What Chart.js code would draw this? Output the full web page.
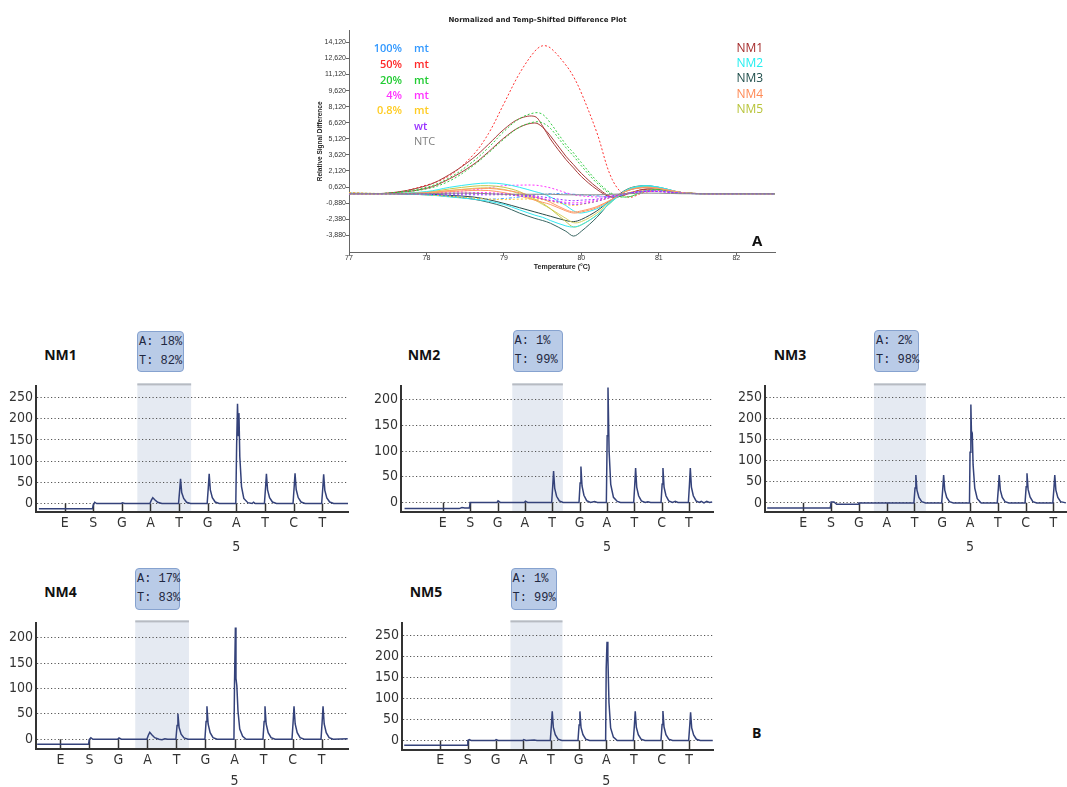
<!DOCTYPE html>
<html>
<head>
<meta charset="utf-8">
<script src="https://cdn.jsdelivr.net/npm/chart.js@4.4.1/dist/chart.umd.min.js"></script>
<style>
  body { margin: 0; width: 1067px; height: 787px; position: relative; background: #fff; overflow: hidden; font-family: 'Open Sans', sans-serif; }
  canvas { position: absolute; }
  .lbl { position: absolute; white-space: nowrap; line-height: 1; }
  .box { position: absolute; box-sizing: border-box; background: #b9cbe7; border: 1px solid #86a2cf; border-radius: 4px; white-space: nowrap;
         font-family: 'Liberation Mono', monospace; font-size: 12px; line-height: 19px; color: #1f2740; padding: 1px 0 0 1px; }
</style>
</head>
<body>
<script>
// ---- melt curve (panel A) ----
const temps = [77.0, 77.5, 78.0, 78.3, 78.6, 78.8, 79.0, 79.2, 79.4, 79.5, 79.6, 79.8, 79.9, 80.0, 80.2, 80.4, 80.6, 80.8, 81.0, 81.3, 81.6, 82.0, 82.5];
const tempXTicks = [77, 78, 79, 80, 81, 82];
const tempYTicks = [-3.88, -2.38, -0.88, 0.62, 2.12, 3.62, 5.12, 6.62, 8.12, 9.62, 11.12, 12.62, 14.12];

const mt100 = [0.05, 0.0, -0.05, -0.2, -0.4, -0.5, -0.45, -0.3, -0.1, -0.05, 0.0, 0.0, -0.05, -0.1, -0.2, -0.3, 0.0, 0.25, 0.3, 0.05, 0.0, 0.0, 0.0];
const mt50 = [0.1, 0.0, 0.8, 1.7, 3.6, 5.6, 8.4, 11.2, 13.3, 13.8, 13.6, 12.0, 10.9, 9.4, 5.7, 1.3, -0.3, 0.1, 0.3, 0.1, 0.0, 0.0, 0.0];
const mt20a = [0.0, 0.05, 0.6, 1.5, 3.0, 4.3, 5.8, 7.0, 7.55, 7.4, 6.6, 4.6, 3.8, 2.9, 1.2, 0.0, -0.3, 0.2, 0.4, 0.1, 0.0, 0.0, 0.0];
const mt20b = [0.0, 0.05, 0.45, 1.2, 2.6, 3.8, 5.1, 6.2, 6.7, 6.6, 6.1, 4.3, 3.5, 2.6, 1.0, -0.1, -0.3, 0.2, 0.4, 0.1, 0.0, 0.0, 0.0];
const mt4a = [0.0, 0.0, 0.05, 0.15, 0.35, 0.55, 0.75, 0.8, 0.8, 0.7, 0.55, 0.1, -0.1, -0.2, -0.3, -0.2, 0.0, 0.2, 0.2, 0.05, 0.0, 0.0, 0.0];
const mt4b = [0.0, 0.0, 0.0, 0.05, 0.1, 0.1, 0.0, -0.1, -0.3, -0.45, -0.6, -0.8, -0.85, -0.8, -0.6, -0.3, 0.0, 0.2, 0.2, 0.05, 0.0, 0.0, 0.0];
const mt08 = [0.1, 0.0, -0.1, -0.25, -0.4, -0.5, -0.55, -0.5, -0.5, -0.55, -0.7, -1.0, -1.1, -1.0, -0.7, -0.3, 0.1, 0.3, 0.3, 0.05, 0.0, 0.0, 0.0];
const wtA = [0.0, 0.0, -0.05, -0.1, -0.1, -0.1, -0.1, -0.2, -0.35, -0.5, -0.65, -0.9, -1.0, -0.95, -0.7, -0.3, 0.05, 0.25, 0.25, 0.05, 0.0, 0.0, 0.0];
const wtB = [0.0, 0.0, 0.0, 0.0, 0.0, 0.0, -0.05, -0.1, -0.2, -0.3, -0.4, -0.6, -0.65, -0.6, -0.5, -0.2, 0.05, 0.2, 0.2, 0.05, 0.0, 0.0, 0.0];
const ntc = [0.0, 0.0, 0.0, 0.05, 0.05, 0.0, -0.05, -0.05, -0.05, -0.05, -0.05, -0.1, -0.1, -0.1, -0.1, -0.05, 0.0, 0.05, 0.05, 0.0, 0.0, 0.0, 0.0];
const nm1a = [0.0, 0.05, 0.75, 1.8, 3.3, 4.6, 6.0, 7.0, 7.2, 6.3, 5.1, 3.2, 2.4, 1.6, 0.4, -0.35, 0.0, 0.4, 0.4, 0.1, 0.0, 0.0, 0.0];
const nm1b = [0.0, 0.05, 0.5, 1.4, 2.7, 3.9, 5.2, 6.2, 6.6, 6.2, 5.4, 3.5, 2.7, 1.9, 0.6, -0.3, 0.0, 0.4, 0.4, 0.1, 0.0, 0.0, 0.0];
const nm2a = [0.0, 0.0, 0.2, 0.6, 0.9, 1.0, 0.9, 0.6, 0.2, 0.0, -0.3, -1.1, -1.6, -1.8, -1.4, -0.6, 0.4, 0.7, 0.6, 0.1, 0.0, 0.0, 0.0];
const nm2b = [0.0, 0.0, -0.1, -0.3, -0.5, -0.7, -1.0, -1.5, -2.0, -2.2, -2.5, -3.0, -3.1, -2.9, -2.0, -0.7, 0.35, 0.75, 0.6, 0.1, 0.0, 0.0, 0.0];
const nm3a = [0.05, 0.0, -0.1, -0.25, -0.5, -0.8, -1.2, -1.8, -2.3, -2.5, -2.75, -3.5, -3.95, -3.5, -2.2, -0.6, 0.45, 0.75, 0.6, 0.1, 0.0, 0.0, 0.0];
const nm3b = [0.0, 0.0, -0.05, -0.15, -0.3, -0.55, -0.9, -1.3, -1.7, -1.9, -2.1, -2.5, -2.6, -2.4, -1.6, -0.5, 0.3, 0.6, 0.55, 0.1, 0.0, 0.0, 0.0];
const nm4a = [0.0, 0.0, 0.1, 0.3, 0.45, 0.5, 0.35, 0.1, -0.3, -0.5, -0.8, -1.5, -1.7, -1.6, -1.2, -0.5, 0.3, 0.6, 0.5, 0.1, 0.0, 0.0, 0.0];
const nm4b = [0.0, 0.0, 0.05, 0.2, 0.3, 0.3, 0.1, -0.2, -0.6, -0.8, -1.0, -1.6, -1.8, -1.7, -1.3, -0.5, 0.3, 0.55, 0.5, 0.1, 0.0, 0.0, 0.0];
const nm5a = [0.0, 0.0, 0.15, 0.45, 0.7, 0.75, 0.6, 0.2, -0.5, -0.9, -1.4, -2.6, -3.1, -2.9, -2.0, -0.7, 0.4, 0.7, 0.55, 0.1, 0.0, 0.0, 0.0];
const nm5b = [0.0, 0.0, 0.1, 0.3, 0.5, 0.55, 0.4, 0.0, -0.6, -1.0, -1.4, -2.3, -2.7, -2.6, -1.8, -0.6, 0.35, 0.65, 0.55, 0.1, 0.0, 0.0, 0.0];

const stdPercents = ['100%', '50%', '20%', '4%', '0.8%', '', ''];
const stdKinds = ['mt', 'mt', 'mt', 'mt', 'mt', 'wt', 'NTC'];
const sampleNames = ['NM1', 'NM2', 'NM3', 'NM4', 'NM5'];

// ---- pyrograms (panel B) ----
const dispensation = ['E', 'S', 'G', 'A', 'T', 'G', 'A', 'T', 'C', 'T'];
const positionLabel = '5';   // printed under the 7th dispensation
const ticks250 = [0, 50, 100, 150, 200, 250];
const ticks200 = [0, 50, 100, 150, 200];

const nm1Ratio = ['A: 18%', 'T: 82%'];
const nm2Ratio = ['A: 1%', 'T: 99%'];
const nm3Ratio = ['A: 2%', 'T: 98%'];
const nm4Ratio = ['A: 17%', 'T: 83%'];
const nm5Ratio = ['A: 1%', 'T: 99%'];

const nm1Trace = [[0.1,-12.5],[1.97,-12.5],[2.0,-4],[2.05,3],[2.12,0],[2.98,0],[3.02,1.5],[3.1,0],
  [3.98,0],[4.03,8],[4.08,13.5],[4.15,9],[4.25,3],[4.4,0],
  [4.98,0],[5.02,32],[5.05,58.5],[5.09,26],[5.16,12],[5.26,3],[5.4,0],
  [5.98,0],[6.02,38],[6.05,70],[6.09,32],[6.16,14],[6.26,3.5],[6.4,0],
  [6.98,0],[7.01,140],[7.04,235],[7.07,160],[7.09,213],[7.12,110],[7.18,40],[7.26,12],[7.4,2],[7.55,0],[7.6,3],[7.66,0],
  [7.98,0],[8.02,38],[8.05,70],[8.09,32],[8.16,14],[8.26,3.5],[8.4,0],
  [8.98,0],[9.02,40],[9.05,71],[9.09,33],[9.16,14],[9.26,3.5],[9.4,0],
  [9.98,0],[10.02,37],[10.05,69],[10.09,31],[10.16,13],[10.26,3.5],[10.4,0],[10.9,0]];
const nm2Trace = [[-0.4,-12],[1.6,-12],[1.7,-10],[1.8,-11],[1.97,-11],[2.0,0],[2.98,0],[3.02,3],[3.1,0],[3.98,0],[4.02,2.5],[4.1,0],
  [4.98,0],[5.02,33],[5.05,61],[5.09,28],[5.16,12],[5.26,3],[5.4,0],
  [5.98,0],[6.02,38],[6.05,70],[6.09,32],[6.16,14],[6.26,3.5],[6.4,0],[6.55,2],[6.65,0],
  [6.98,0],[7.01,130],[7.04,224],[7.08,100],[7.14,35],[7.24,10],[7.38,2],[7.5,0],
  [7.98,0],[8.02,36],[8.05,67],[8.09,30],[8.16,13],[8.26,3],[8.4,0],[8.5,1.5],[8.6,0],
  [8.98,0],[9.02,36],[9.05,67],[9.09,30],[9.16,13],[9.26,3],[9.4,0],[9.5,2],[9.6,0],
  [9.98,0],[10.02,36],[10.05,67],[10.09,30],[10.16,13],[10.26,3],[10.38,0],[10.45,2],[10.55,-1],[10.65,2],[10.75,0],[10.85,1]];
const nm3Trace = [[-0.3,-12],[1.97,-12],[2.0,2],[2.1,2],[2.2,-3.5],[2.97,-3.5],[3.0,0],
  [4.98,0],[5.02,35],[5.05,66],[5.09,30],[5.16,13],[5.26,3],[5.4,0],
  [5.98,0],[6.02,35],[6.05,66],[6.09,30],[6.16,13],[6.26,3],[6.4,0],
  [6.98,0],[7.0,120],[7.03,233],[7.05,170],[7.08,165],[7.11,90],[7.17,35],[7.26,10],[7.4,0],
  [7.98,0],[8.02,35],[8.05,66],[8.09,30],[8.16,13],[8.26,3],[8.4,0],
  [8.98,0],[9.02,38],[9.05,70],[9.09,32],[9.16,14],[9.26,3],[9.4,0],
  [9.98,0],[10.02,35],[10.05,66],[10.09,30],[10.16,13],[10.26,3],[10.45,0]];
const nm4Trace = [[0.2,-10],[1.97,-10],[2.0,0],[2.05,3],[2.12,0],[2.97,0],[3.02,2.5],[3.1,0],
  [3.98,0],[4.03,8],[4.08,13.6],[4.15,9],[4.25,3],[4.4,0],[4.5,-1],[4.6,1],[4.7,0],
  [4.98,0],[5.02,27],[5.05,50],[5.09,23],[5.16,10],[5.26,2.5],[5.4,0],
  [5.98,0],[6.02,35],[6.05,65],[6.09,30],[6.16,13],[6.26,3],[6.4,0],
  [6.98,0],[7.0,110],[7.03,220],[7.05,120],[7.08,105],[7.12,55],[7.18,20],[7.28,6],[7.4,0],
  [7.98,0],[8.02,35],[8.05,65],[8.09,30],[8.16,13],[8.26,3],[8.4,0],
  [8.98,0],[9.02,35],[9.05,65],[9.09,30],[9.16,13],[9.26,3],[9.4,0],
  [9.98,0],[10.02,35],[10.05,65],[10.09,30],[10.16,13],[10.26,3],[10.4,0],[10.9,1]];
const nm5Trace = [[-0.3,-11],[1.97,-11],[2.0,0],[2.05,2],[2.12,0],[2.98,0],[3.02,2],[3.1,0],[3.98,0],[4.02,2],[4.1,0],[4.4,1],[4.5,0],
  [4.98,0],[5.02,37],[5.05,69],[5.09,31],[5.16,14],[5.26,3],[5.4,0],
  [5.98,0],[6.02,37],[6.05,69],[6.09,31],[6.16,14],[6.26,3],[6.4,0],
  [6.98,0],[7.0,170],[7.03,234],[7.06,200],[7.1,90],[7.16,30],[7.26,8],[7.4,0],
  [7.98,0],[8.02,37],[8.05,69],[8.09,31],[8.16,14],[8.26,3],[8.4,0],
  [8.98,0],[9.02,38],[9.05,70],[9.09,32],[9.16,14],[9.26,3],[9.4,0],
  [9.98,0],[10.02,36],[10.05,67],[10.09,30],[10.16,13],[10.26,3],[10.4,0],[10.85,0]];

// helpers
function putText(txt, x, y, css, anchor) {
  const d = document.createElement('div');
  d.className = 'lbl';
  d.textContent = txt;
  Object.assign(d.style, css);
  d.style.left = x + 'px';
  d.style.top = y + 'px';
  const tx = anchor === 'r' ? '-100%' : anchor === 'c' ? '-50%' : '0';
  d.style.transform = 'translate(' + tx + ',-50%)';
  document.body.appendChild(d);
}
function makeCanvas(left, top, w, h) {
  const c = document.createElement('canvas');
  c.width = w; c.height = h;
  c.style.left = left + 'px'; c.style.top = top + 'px';
  c.style.width = w + 'px'; c.style.height = h + 'px';
  document.body.appendChild(c);
  return c;
}

// ---------- Panel A ----------
const series = [
  {d: ntc, c: '#8a8a8a', dash: []},
  {d: wtA, c: '#9933ff', dash: [2, 2]},
  {d: wtB, c: '#9933ff', dash: [2, 2]},
  {d: mt08, c: '#ffcc33', dash: [2, 2]},
  {d: mt100, c: '#3399ff', dash: [3, 2, 1, 2]},
  {d: mt4b, c: '#ff33ff', dash: [2, 2]},
  {d: nm4a, c: '#ff9966', dash: []},
  {d: nm4b, c: '#ff9966', dash: []},
  {d: nm2a, c: '#33e8f2', dash: []},
  {d: nm2b, c: '#33e8f2', dash: []},
  {d: nm5a, c: '#c4c84a', dash: []},
  {d: nm5b, c: '#d8d060', dash: []},
  {d: nm3a, c: '#3a6662', dash: []},
  {d: nm3b, c: '#2a4a48', dash: []},
  {d: mt4a, c: '#ff33ff', dash: [2, 2]},
  {d: mt20a, c: '#33cc44', dash: [2, 2]},
  {d: mt20b, c: '#33cc44', dash: [2, 2]},
  {d: nm1a, c: '#a83a3a', dash: []},
  {d: nm1b, c: '#a83a3a', dash: []},
  {d: mt50, c: '#ff3333', dash: [2, 2]}
];

const ctxA = makeCanvas(300, 10, 480, 270).getContext('2d');
new Chart(ctxA, {
  type: 'line',
  data: {
    datasets: series.map(s => ({
      data: temps.map((t, i) => ({x: t, y: s.d[i]})),
      borderColor: s.c,
      borderDash: s.dash,
      borderWidth: 1,
      pointRadius: 0,
      tension: 0.35,
      fill: false
    }))
  },
  options: {
    responsive: false,
    animation: false,
    layout: {padding: {left: 0, right: 5, top: 0, bottom: 0}},
    plugins: {
      legend: {display: false},
      tooltip: {enabled: false},
      title: {
        display: true,
        text: 'Normalized and Temp-Shifted Difference Plot',
        color: '#222',
        font: {family: 'DejaVu Sans', size: 7, weight: 'bold'},
        padding: {top: 6.2, bottom: 5.4}
      }
    },
    scales: {
      x: {
        type: 'linear',
        min: 77, max: 82.5,
        afterBuildTicks: sc => { sc.ticks = tempXTicks.map(v => ({value: v})); },
        afterFit: sc => { sc.height = 27.3; },
        grid: {drawOnChartArea: false, tickLength: 3, color: '#666'},
        border: {color: '#666', width: 1},
        ticks: {color: '#333', font: {family: 'Liberation Sans', size: 7}, padding: -1.5, maxRotation: 0},
        title: {display: true, text: 'Temperature (°C)', color: '#222',
                font: {family: 'Liberation Sans', size: 7, weight: 'bold'}, padding: {top: 0, bottom: 8.5}}
      },
      y: {
        min: -5.5, max: 15.27,
        afterBuildTicks: sc => { sc.ticks = tempYTicks.map(v => ({value: v})); },
        afterFit: sc => { sc.width = 49; },
        grid: {drawOnChartArea: false, tickLength: 3, color: '#666'},
        border: {color: '#666', width: 1},
        ticks: {color: '#333', font: {family: 'Liberation Sans', size: 7}, padding: 0,
                callback: v => v.toFixed(3).replace('.', ',')},
        title: {display: true, text: 'Relative Signal Difference', color: '#222',
                font: {family: 'Liberation Sans', size: 6.5, weight: 'bold'}, padding: {top: 16, bottom: 0}}
      }
    }
  }
});

// in-plot legend texts
const stdColors = ['#3399ff', '#ff2a2a', '#22cc33', '#ff33ff', '#ffcc22', '#9933ff', '#808080'];
const stdRows = [47.3, 63.3, 78.7, 93.5, 109.2, 124.8, 139.5];
stdPercents.forEach((p, i) => {
  if (p) putText(p, 402, stdRows[i], {color: stdColors[i], fontSize: '11px', fontWeight: '600'}, 'r');
  putText(stdKinds[i], 414, stdRows[i], {color: stdColors[i], fontSize: '11px', fontWeight: i === 6 ? '400' : '600'}, 'l');
});
const sampleColors = ['#a52a2a', '#22eef0', '#1e4d4a', '#ff8a55', '#b8c43a'];
const sampleRows = [47.7, 62.9, 78.4, 93.9, 109.1];
sampleNames.forEach((n, i) => putText(n, 736.5, sampleRows[i], {color: sampleColors[i], fontSize: '12px'}, 'l'));
putText('A', 752, 239.5, {color: '#111', fontSize: '15px', fontWeight: '700'}, 'l');

// ---------- Panel B ----------
const pyroDecor = {
  id: 'pyroDecor',
  beforeDraw(chart, args, opts) {
    const {ctx, chartArea, scales: {x}} = chart;
    const x0 = x.getPixelForValue(opts.shade[0]);
    const x1 = x.getPixelForValue(opts.shade[1]);
    ctx.save();
    ctx.fillStyle = '#e5eaf2';
    ctx.fillRect(x0, chartArea.top - 3, x1 - x0, chartArea.bottom - chartArea.top + 3);
    ctx.fillStyle = '#b7bbc2';
    ctx.fillRect(x0, chartArea.top - 3, x1 - x0, 2);
    ctx.restore();
  },
  beforeDatasetsDraw(chart) {
    const {ctx, chartArea, scales: {x, y}} = chart;
    ctx.save();
    ctx.strokeStyle = '#333';
    ctx.lineWidth = 1.5;
    x.ticks.forEach(t => {
      const px = Math.round(x.getPixelForValue(t.value)) + 0.5;
      ctx.beginPath();
      ctx.moveTo(px, chartArea.bottom);
      ctx.lineTo(px, y.getPixelForValue(0));
      ctx.stroke();
    });
    ctx.restore();
  }
};

const panels = [
  {name: 'NM1', trace: nm1Trace, ratio: nm1Ratio, yTicks: ticks250, xr: [0.0, 10.9], yr: [-20, 276], shade: [3.54, 5.42],
   left: 36, right: 348, top: 380, bottom: 512, cBottom: 560, lh: 24, tp: -1, label: [60.5, 355], box: [137, 331, 47, 41]},
  {name: 'NM2', trace: nm2Trace, ratio: nm2Ratio, yTicks: ticks200, xr: [-0.53, 10.88], yr: [-18.6, 226], shade: [3.54, 5.39],
   left: 401, right: 713, top: 380, bottom: 512, cBottom: 560, lh: 24, tp: -1, label: [424, 355], box: [512.5, 330, 50, 42]},
  {name: 'NM3', trace: nm3Trace, ratio: nm3Ratio, yTicks: ticks250, xr: [-0.38, 10.49], yr: [-21.6, 276], shade: [3.54, 5.41],
   left: 765, right: 1067, top: 380, bottom: 512, cBottom: 560, lh: 24, tp: -1, label: [790, 355], box: [874, 330, 45, 42]},
  {name: 'NM4', trace: nm4Trace, ratio: nm4Ratio, yTicks: ticks200, xr: [0.16, 10.91], yr: [-19.2, 228], shade: [3.58, 5.43],
   left: 36, right: 348, top: 617, bottom: 749, cBottom: 787, lh: 21, tp: 0.5, label: [60.5, 592.3], box: [135, 568, 45, 42]},
  {name: 'NM5', trace: nm5Trace, ratio: nm5Ratio, yTicks: ticks250, xr: [-0.38, 10.86], yr: [-22.5, 277.7], shade: [3.54, 5.42],
   left: 402, right: 713, top: 617, bottom: 750, cBottom: 787, lh: 21, tp: 0, label: [426, 591.7], box: [510.5, 568, 46, 42]}
];

const narrow = "'Liberation Sans Narrow', 'DejaVu Sans Condensed', sans-serif";

panels.forEach(p => {
  const yW = 40, padTop = 5;
  const cLeft = p.left - yW, cTop = p.top - padTop;
  const cRight = Math.min(p.right + 2, 1067);
  const padRight = cRight - p.right;
  const ctx = makeCanvas(cLeft, cTop, cRight - cLeft, p.cBottom - cTop).getContext('2d');
  new Chart(ctx, {
    type: 'line',
    data: {
      datasets: [{
        data: p.trace.map(pt => ({x: pt[0], y: pt[1]})),
        borderColor: '#34427a',
        borderWidth: 1.5,
        pointRadius: 0,
        tension: 0,
        fill: false
      }]
    },
    plugins: [pyroDecor],
    options: {
      responsive: false,
      animation: false,
      layout: {padding: {top: padTop, right: padRight, left: 0, bottom: 0}},
      plugins: {legend: {display: false}, tooltip: {enabled: false}, pyroDecor: {shade: p.shade}},
      scales: {
        x: {
          type: 'linear',
          min: p.xr[0], max: p.xr[1],
          afterBuildTicks: sc => { sc.ticks = dispensation.map((d, i) => ({value: i + 1})); },
          afterFit: sc => { sc.height = p.cBottom - p.bottom; },
          grid: {display: false, drawTicks: false},
          border: {color: '#333', width: 2},
          ticks: {
            autoSkip: false, maxRotation: 0, padding: p.tp, color: '#333',
            font: {family: narrow, size: 14, lineHeight: p.lh + 'px'},
            callback: v => (v === 7 ? [dispensation[v - 1], positionLabel] : dispensation[v - 1])
          }
        },
        y: {
          min: p.yr[0], max: p.yr[1],
          afterBuildTicks: sc => { sc.ticks = p.yTicks.map(v => ({value: v})); },
          afterFit: sc => { sc.width = yW; },
          grid: {drawTicks: false, color: '#555', lineWidth: 1},
          border: {color: '#333', width: 2, dash: [1.2, 2.3]},
          ticks: {padding: 3, color: '#333', font: {family: narrow, size: 14}}
        }
      }
    }
  });

  putText(p.name, p.label[0], p.label[1], {color: '#111', fontSize: '14px', fontWeight: '700'}, 'c');
  const b = document.createElement('div');
  b.className = 'box';
  Object.assign(b.style, {left: p.box[0] + 'px', top: p.box[1] + 'px', width: p.box[2] + 'px', height: p.box[3] + 'px'});
  b.innerHTML = p.ratio.join('<br>');
  document.body.appendChild(b);
});

putText('B', 752, 732.5, {color: '#111', fontSize: '14px', fontWeight: '700'}, 'l');
</script>
</body>
</html>
